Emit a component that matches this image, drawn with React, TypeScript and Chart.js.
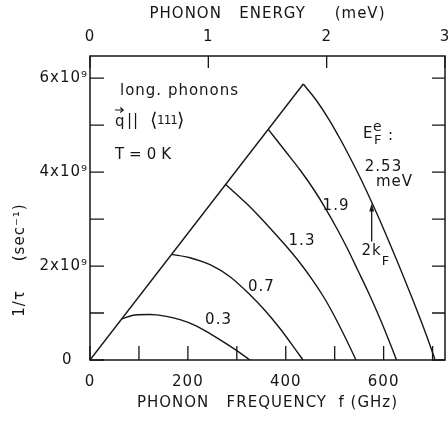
import React, { useEffect, useRef } from 'react';
import { Chart, registerables } from 'chart.js';

Chart.register(...registerables);

// Phonon frequency f in GHz, scattering rate 1/τ in units of 10^9 s^-1.
const GHZ_MAX = 725.4; // 3 meV
const MEV_MAX = 3;
const RATE_MAX = 6.47;

// Linear envelope (onset of each curve)
const diagF = [0, 435.8];
const diagRate = [0, 5.873];

// E_F = 0.3 meV
const f03 = [64.8, 92.0, 122.6, 153.3, 183.9, 214.5, 245.2, 275.8, 306.5, 326.9];
const rate03 = [0.875, 0.957, 0.967, 0.935, 0.858, 0.737, 0.562, 0.364, 0.153, 0];

// E_F = 0.7 meV
const f07 = [166.9, 204.3, 245.2, 286.1, 327.0, 357.6, 388.2, 418.9, 435.2];
const rate07 = [2.249, 2.177, 2.028, 1.773, 1.39, 1.054, 0.67, 0.238, 0];

// E_F = 1.3 meV
const f13 = [277.3, 301.0, 323.0, 343.1, 367.6, 398.9, 427.7, 453.4, 476.3, 491.6, 505.7, 522.1, 537.8, 543.5];
const rate13 = [3.736, 3.511, 3.298, 3.085, 2.809, 2.447, 2.085, 1.723, 1.362, 1.085, 0.809, 0.468, 0.128, 0];

// E_F = 1.9 meV
const f19 = [364.3, 397.4, 429.3, 457.9, 483.2, 506.1, 527.4, 547.0, 566.6, 585.0, 602.2, 618.5, 626.3];
const rate19 = [4.909, 4.469, 4.043, 3.618, 3.192, 2.767, 2.341, 1.915, 1.49, 1.064, 0.638, 0.213, 0];

// E_F = 2.53 meV
const f253 = [435.8, 462.0, 489.0, 512.3, 533.9, 554.4, 573.6, 592.0, 609.5, 626.7, 643.4, 659.8, 675.7, 690.9, 705.2];
const rate253 = [5.873, 5.533, 5.107, 4.682, 4.256, 3.831, 3.405, 2.979, 2.554, 2.128, 1.702, 1.277, 0.851, 0.426, 0];

const xTitle = 'PHONON   FREQUENCY  f (GHz)';
const topTitle = 'PHONON   ENERGY     (meV)';
const yTitle = '1/\u03C4     (sec\u207B\u00B9)';

const INK = '#161616';
const FAMILY = '"DejaVu Sans"';

// Text placed inside the plot, in data coordinates (GHz, 10^9 s^-1)
const notes = [
  { text: 'long. phonons', f: 61.3, r: 5.72, size: 15, align: 'left' },
  { text: 'q', f: 51, r: 5.07, size: 15, align: 'left' },
  { text: '||', f: 75.6, r: 5.09, size: 15, align: 'left' },
  { text: '\u27E8', f: 122.6, r: 5.09, size: 19, align: 'left', ls: 0 },
  { text: '111', f: 136.9, r: 5.09, size: 12, align: 'left', ls: -1 },
  { text: '\u27E9', f: 177.8, r: 5.09, size: 19, align: 'left', ls: 0 },
  { text: 'T\u2009=\u20090\u2009K', f: 51, r: 4.36, size: 15, align: 'left' },
  { text: 'E', f: 557.8, r: 4.81, size: 15, align: 'left' },
  { text: 'e', f: 578.3, r: 4.96, size: 14, align: 'left' },
  { text: 'F', f: 580.3, r: 4.66, size: 13, align: 'left' },
  { text: ':', f: 608.9, r: 4.77, size: 15, align: 'left' },
  { text: '2.53', f: 599.7, r: 4.1, size: 15, align: 'center' },
  { text: 'meV', f: 622.2, r: 3.78, size: 15, align: 'center' },
  { text: '1.9', f: 502.7, r: 3.28, size: 15, align: 'center' },
  { text: '1.3', f: 433.2, r: 2.53, size: 15, align: 'center' },
  { text: '0.7', f: 350.4, r: 1.56, size: 15, align: 'center' },
  { text: '0.3', f: 262.6, r: 0.85, size: 15, align: 'center' },
  { text: '2k', f: 575.2, r: 2.31, size: 15, align: 'center' },
  { text: 'F', f: 604.8, r: 2.09, size: 13, align: 'center' },
];
// vector arrow over the q and the 2k_F marker arrow
const qArrow = { f0: 51, f1: 68, r: 5.32 };
const kfArrow = { f: 575.6, from: 2.52, to: 3.33 };

const pts = (f: number[], r: number[]) => f.map((x, i) => ({ x, y: r[i] }));

export default function App() {
  const ref = useRef<HTMLCanvasElement>(null);

  useEffect(() => {
    const canvas = ref.current;
    if (!canvas) return;

    const curve = (f: number[], r: number[], smooth = true) => ({
      data: pts(f, r),
      borderColor: INK,
      borderWidth: 1.4,
      pointRadius: 0,
      fill: false,
      cubicInterpolationMode: smooth ? 'monotone' : 'default',
      tension: 0,
    });

    const spacing = {
      id: 'spacing',
      beforeDraw(chart: any) {
        chart.ctx.letterSpacing = '1px';
      },
    };

    const frame = {
      id: 'frame',
      afterDraw(chart: any) {
        const { ctx, chartArea: a, scales } = chart;
        const xs = scales.x;
        const ys = scales.y;
        const ts = scales.x2;
        ctx.save();
        ctx.strokeStyle = INK;
        ctx.fillStyle = INK;
        ctx.lineWidth = 1.5;
        ctx.strokeRect(a.left, a.top, a.right - a.left, a.bottom - a.top);

        // inward tick marks
        ctx.lineWidth = 1.3;
        ctx.beginPath();
        xs.ticks.forEach((t: any) => {
          const p = xs.getPixelForValue(t.value);
          ctx.moveTo(p, a.bottom);
          ctx.lineTo(p, a.bottom - 14);
        });
        ts.ticks.forEach((t: any) => {
          const p = ts.getPixelForValue(t.value);
          ctx.moveTo(p, a.top);
          ctx.lineTo(p, a.top + 12);
        });
        ys.ticks.forEach((t: any) => {
          const p = ys.getPixelForValue(t.value);
          ctx.moveTo(a.left, p);
          ctx.lineTo(a.left + 14, p);
          ctx.moveTo(a.right, p);
          ctx.lineTo(a.right - 13, p);
        });
        ctx.stroke();

        // labels inside the plot
        ctx.textBaseline = 'middle';
        notes.forEach((n: any) => {
          ctx.letterSpacing = `${n.ls ?? 1}px`;
          ctx.font = `${n.size}px ${FAMILY}`;
          ctx.textAlign = n.align as CanvasTextAlign;
          ctx.fillText(n.text, xs.getPixelForValue(n.f), ys.getPixelForValue(n.r));
        });
        ctx.letterSpacing = '1px';

        // vector arrow over q
        const qx0 = xs.getPixelForValue(qArrow.f0);
        const qx1 = xs.getPixelForValue(qArrow.f1);
        const qy = ys.getPixelForValue(qArrow.r);
        ctx.lineWidth = 1.1;
        ctx.beginPath();
        ctx.moveTo(qx0, qy);
        ctx.lineTo(qx1, qy);
        ctx.moveTo(qx1 - 3, qy - 2.5);
        ctx.lineTo(qx1, qy);
        ctx.lineTo(qx1 - 3, qy + 2.5);
        ctx.stroke();

        // 2k_F arrow
        const ax = xs.getPixelForValue(kfArrow.f);
        const y0 = ys.getPixelForValue(kfArrow.from);
        const y1 = ys.getPixelForValue(kfArrow.to);
        ctx.lineWidth = 1.3;
        ctx.beginPath();
        ctx.moveTo(ax, y0);
        ctx.lineTo(ax, y1 + 6);
        ctx.stroke();
        ctx.beginPath();
        ctx.moveTo(ax, y1);
        ctx.lineTo(ax - 2.5, y1 + 8);
        ctx.lineTo(ax + 2.5, y1 + 8);
        ctx.closePath();
        ctx.fill();

        // vertical axis title
        ctx.font = `15px ${FAMILY}`;
        ctx.textAlign = 'center';
        ctx.translate(20, 260);
        ctx.rotate(-Math.PI / 2);
        ctx.fillText(yTitle, 0, 0);
        ctx.restore();
      },
    };

    const axisFont = { family: FAMILY, size: 15 };
    const noSidePad = (s: any) => {
      s.paddingLeft = 0;
      s.paddingRight = 0;
    };

    const chart = new Chart(canvas, {
      type: 'line',
      data: {
        datasets: [
          curve(diagF, diagRate, false),
          curve(f03, rate03),
          curve(f07, rate07),
          curve(f13, rate13),
          curve(f19, rate19),
          curve(f253, rate253),
        ] as any,
      },
      options: {
        responsive: false,
        animation: false,
        layout: { padding: { left: 0, right: 3, top: 0, bottom: 0 } },
        plugins: { legend: { display: false }, tooltip: { enabled: false } },
        scales: {
          x: {
            type: 'linear',
            position: 'bottom',
            min: 0,
            max: GHZ_MAX,
            grid: { display: false, drawTicks: false },
            border: { display: false },
            ticks: {
              stepSize: 100,
              includeBounds: false,
              autoSkip: false,
              maxRotation: 0,
              padding: 13,
              color: INK,
              font: axisFont,
              callback: (v: any) => (Number(v) % 200 === 0 ? String(v) : ''),
            },
            title: { display: true, text: xTitle, color: INK, font: axisFont, padding: { top: 0, bottom: 9 } },
            afterFit: (s: any) => {
              s.height = 61;
              noSidePad(s);
            },
          },
          x2: {
            type: 'linear',
            position: 'top',
            min: 0,
            max: MEV_MAX,
            grid: { display: false, drawTicks: false },
            border: { display: false },
            ticks: {
              stepSize: 1,
              includeBounds: false,
              autoSkip: false,
              maxRotation: 0,
              padding: 10,
              color: INK,
              font: axisFont,
              callback: (v: any) => String(v),
            },
            title: { display: true, text: topTitle, color: INK, font: axisFont, padding: { top: 5, bottom: 0 } },
            afterFit: (s: any) => {
              s.height = 56;
              noSidePad(s);
            },
          },
          y: {
            type: 'linear',
            position: 'left',
            min: 0,
            max: RATE_MAX,
            grid: { display: false, drawTicks: false },
            border: { display: false },
            ticks: {
              stepSize: 1,
              includeBounds: false,
              autoSkip: false,
              padding: 2,
              color: INK,
              font: axisFont,
              callback: (v: any) => {
                const n = Number(v);
                if (n === 0) return '0  \u2009';
                return n % 2 === 0 ? `${n}x10\u2079` : '';
              },
            },
            afterFit: (s: any) => {
              s.width = 90;
            },
          },
        },
      } as any,
      plugins: [spacing, frame],
    });

    return () => chart.destroy();
  }, []);

  return (
    <div style={{ position: 'fixed', left: 0, top: 0, width: 448, height: 421, background: '#fff' }}>
      <canvas ref={ref} width={448} height={421} style={{ width: 448, height: 421, display: 'block' }} />
    </div>
  );
}
